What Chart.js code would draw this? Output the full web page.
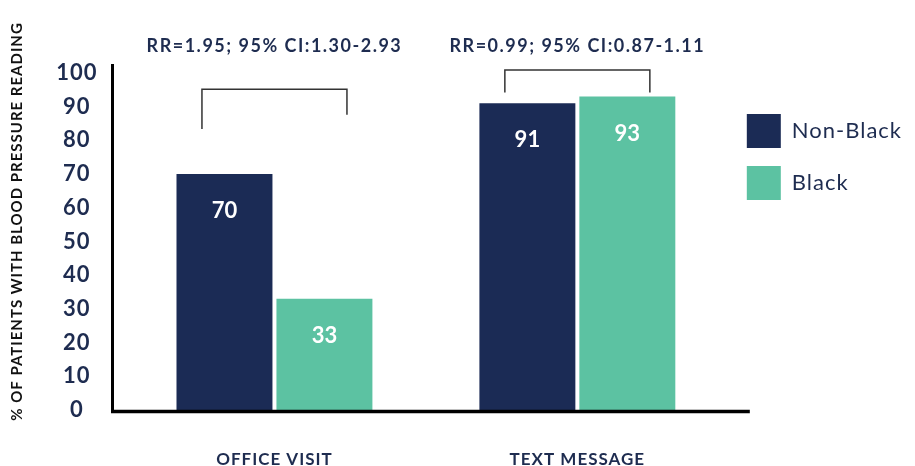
<!doctype html>
<html lang="en">
<head>
  <meta charset="utf-8">
  <title>Blood pressure reading by visit type</title>
  <script src="https://cdn.jsdelivr.net/npm/chart.js@4.4.1/dist/chart.umd.min.js"></script>
  <style>
    html, body { margin: 0; padding: 0; background: #fff; }
    canvas { display: block; }
  </style>
</head>
<body>
<canvas id="myChart" width="915" height="466"></canvas>
<script>
  // data
  var categories = ["OFFICE VISIT", "TEXT MESSAGE"];
  var seriesNames = ["Non-Black", "Black"];
  var nonBlack = [70, 91];
  var black = [33, 93];
  var rrLabels = ["RR=1.95; 95% CI:1.30-2.93", "RR=0.99; 95% CI:0.87-1.11"];
  var yTicks = [0, 10, 20, 30, 40, 50, 60, 70, 80, 90, 100];
  var yTitle = "% OF PATIENTS WITH BLOOD PRESSURE READING";

  var NAVY = "#1b2b55";
  var GREEN = "#5cc2a2";
  var TEXT = "#1e2c50";

  // brackets over each pair, in y-scale units (top, left leg end, right leg end)
  var brackets = [
    { top: 95.2, leftEnd: 83.4, rightEnd: 87.6 },
    { top: 100.9, leftEnd: 94.2, rightEnd: 94.2 }
  ];

  var decor = {
    id: "decor",
    beforeDraw: function (chart) {
      // the original type is slightly tracked out
      chart.ctx.letterSpacing = "1px";
    },
    afterDatasetsDraw: function (chart) {
      var ctx = chart.ctx;
      var area = chart.chartArea;
      var x = chart.scales.x, y = chart.scales.y;
      ctx.save();
      ctx.letterSpacing = "0px";

      // value labels inside the bars
      ctx.fillStyle = "#fff";
      ctx.font = "bold 22px Lato";
      ctx.textAlign = "center";
      ctx.textBaseline = "middle";
      chart.data.datasets.forEach(function (ds, di) {
        chart.getDatasetMeta(di).data.forEach(function (bar, i) {
          ctx.fillText(String(ds.data[i]), bar.x, bar.y + 37);
        });
      });

      // axis lines
      ctx.strokeStyle = "#000";
      ctx.lineWidth = 3;
      ctx.beginPath();
      ctx.moveTo(area.left - 10.5, area.top - 9);
      ctx.lineTo(area.left - 10.5, area.bottom + 3);
      ctx.stroke();
      ctx.lineWidth = 3.5;
      ctx.beginPath();
      ctx.moveTo(area.left - 12, area.bottom + 1.5);
      ctx.lineTo(area.right + 21, area.bottom + 1.5);
      ctx.stroke();

      // brackets and RR text
      ctx.strokeStyle = "#333";
      ctx.lineWidth = 1.5;
      brackets.forEach(function (b, i) {
        var cx = x.getPixelForValue(i);
        var l = cx - 72.5, r = cx + 72.5;
        ctx.beginPath();
        ctx.moveTo(l, y.getPixelForValue(b.leftEnd));
        ctx.lineTo(l, y.getPixelForValue(b.top));
        ctx.lineTo(r, y.getPixelForValue(b.top));
        ctx.lineTo(r, y.getPixelForValue(b.rightEnd));
        ctx.stroke();
      });
      ctx.fillStyle = TEXT;
      ctx.font = "bold 18px Lato";
      ctx.letterSpacing = "1.5px";
      rrLabels.forEach(function (t, i) {
        ctx.fillText(t, x.getPixelForValue(i), area.top - 27);
      });

      // y axis title, sits a little above the middle of the axis
      ctx.save();
      ctx.translate(17, (area.top + area.bottom) / 2 - 20);
      ctx.rotate(-Math.PI / 2);
      ctx.fillStyle = "#111";
      ctx.font = "bold 15px Lato";
      ctx.letterSpacing = "1px";
      ctx.fillText(yTitle, 0, 0);
      ctx.restore();

      ctx.restore();
    }
  };

  var ctx = document.getElementById("myChart");
  var myChart = new Chart(ctx, {
    type: "bar",
    data: {
      labels: categories,
      datasets: [
        { label: seriesNames[0], data: nonBlack, backgroundColor: NAVY, borderWidth: 0,
          categoryPercentage: 0.66, barPercentage: 0.96 },
        { label: seriesNames[1], data: black, backgroundColor: GREEN, borderWidth: 0,
          categoryPercentage: 0.66, barPercentage: 0.96 }
      ]
    },
    options: {
      responsive: false,
      animation: false,
      layout: { padding: { top: 73, right: 12, bottom: 0, left: 0 } },
      plugins: {
        tooltip: { enabled: false },
        legend: {
          position: "right",
          align: "start",
          title: { display: true, text: " ", font: { size: 12 }, padding: { top: 4.3, bottom: 4.3 } },
          labels: {
            boxWidth: 34,
            boxHeight: 34,
            padding: 18,
            color: TEXT,
            font: { family: "Lato", size: 22, weight: "normal" }
          }
        }
      },
      scales: {
        x: {
          offset: true,
          afterFit: function (scale) { scale.height = 56; },
          grid: { display: false, drawTicks: false },
          border: { display: false },
          ticks: {
            padding: 39,
            color: TEXT,
            font: { family: "Lato", size: 17, weight: "bold" }
          }
        },
        y: {
          min: 0,
          max: 100,
          afterBuildTicks: function (scale) {
            scale.ticks = yTicks.map(function (v) { return { value: v }; });
          },
          afterFit: function (scale) { scale.width = 123; },
          grid: { display: false, drawTicks: false },
          border: { display: false },
          ticks: {
            padding: 27,
            crossAlign: "center",
            color: TEXT,
            font: { family: "Lato", size: 22, weight: "bold" }
          },
          title: { display: false }
        }
      }
    },
    plugins: [decor]
  });
</script>
</body>
</html>
